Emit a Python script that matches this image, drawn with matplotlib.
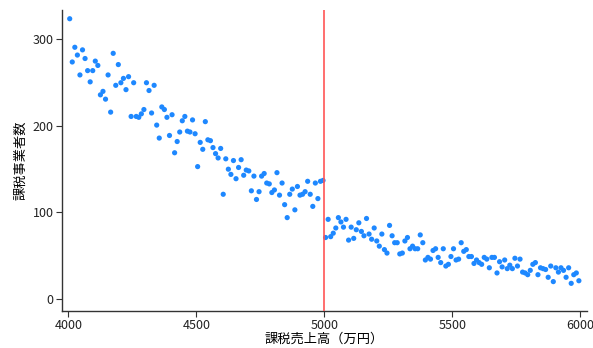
import numpy as np
import matplotlib.pyplot as plt

plt.rcParams['font.family'] = ['Noto Sans CJK JP', 'DejaVu Sans']

# 課税売上高 (万円): 10万円刻みのビンの中心
sales = np.arange(4005, 6000, 10)

# 課税事業者数 (左: 5000万円以下, 右: 5000万円超)
counts_below = [
    324, 274, 291, 282, 259, 288, 278, 264, 251, 264,
    275, 270, 236, 240, 231, 259, 216, 284, 247, 271,
    250, 255, 242, 257, 211, 250, 211, 210, 214, 219,
    250, 241, 215, 247, 201, 186, 222, 219, 210, 189,
    213, 169, 182, 193, 206, 211, 194, 193, 207, 191,
    153, 181, 173, 205, 184, 183, 175, 168, 163, 174,
    121, 162, 150, 144, 160, 139, 152, 161, 143, 149,
    148, 125, 142, 115, 124, 142, 145, 134, 133, 123,
    126, 146, 120, 134, 109, 94, 121, 127, 103, 130,
    120, 121, 124, 136, 121, 107, 134, 116, 136, 137,
]
counts_above = [
    71, 92, 72, 76, 82, 94, 89, 83, 92, 68,
    83, 70, 80, 88, 78, 73, 93, 75, 69, 82,
    67, 61, 75, 57, 53, 85, 73, 65, 65, 52,
    53, 67, 71, 58, 61, 58, 58, 74, 65, 45,
    48, 46, 56, 58, 48, 42, 58, 38, 40, 49,
    58, 45, 46, 65, 55, 57, 49, 49, 41, 45,
    42, 40, 48, 46, 36, 48, 48, 30, 43, 37,
    45, 35, 39, 35, 47, 38, 46, 31, 30, 28,
    33, 40, 42, 28, 36, 35, 34, 25, 38, 20,
    36, 31, 36, 33, 25, 36, 18, 28, 30, 21,
]
counts = counts_below + counts_above
threshold = 5000

fig = plt.figure(figsize=(5.93, 3.48), dpi=100)
ax = fig.add_axes([0.1046, 0.1063, 0.8854, 0.8647])

ax.scatter(sales, counts, s=14, color='#1e88ff', edgecolors='none', zorder=2)
ax.axvline(x=threshold, color='#ff5555', linewidth=1.2, zorder=3)

ax.set_xlim(3975, 6027)
ax.set_ylim(-14, 334)
ax.set_xticks([4000, 4500, 5000, 5500, 6000])
ax.set_yticks([0, 100, 200, 300])

for side in ['top', 'right']:
    ax.spines[side].set_visible(False)
for side in ['left', 'bottom']:
    ax.spines[side].set_color('#333333')
    ax.spines[side].set_linewidth(1.0)
ax.tick_params(direction='out', length=4, width=0.8, color='#333333',
               labelsize=9, labelcolor='#222222', pad=2)

ax.set_xlabel('課税売上高（万円）', fontsize=9.5, labelpad=0)
ax.set_ylabel('課税事業者数', fontsize=9.5, labelpad=4)

fig.savefig('out.png', dpi=100)
